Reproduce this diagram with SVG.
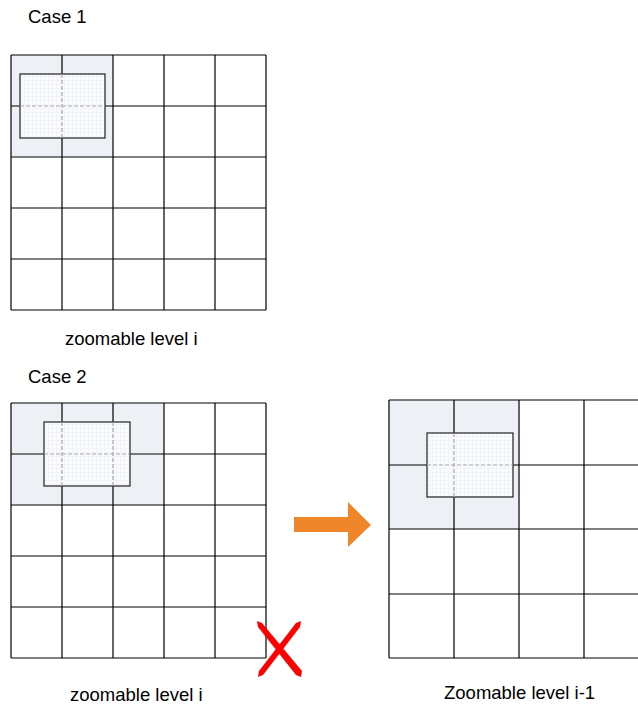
<svg xmlns="http://www.w3.org/2000/svg" width="638" height="704" viewBox="0 0 638 704">
<style>
text{font-family:"Liberation Sans",Arial,sans-serif;fill:#000}
.lbl{font-size:18.5px}
.shade{fill:#edf0f5;stroke:none}
.grid{stroke:#000;stroke-width:1.2;fill:none}
.win{fill:url(#fine);stroke:#222;stroke-width:1.2}
.dash{stroke:#aaa;stroke-width:1.2;stroke-dasharray:4 2;fill:none}
</style>
<defs>
<pattern id="fine" width="4" height="4" patternUnits="userSpaceOnUse">
<rect width="4" height="4" fill="#fafbfd"/>
<path d="M0 0.5H4M0.5 0V4" stroke="#f1f3f8" stroke-width="1"/>
</pattern>
</defs>
<rect width="638" height="704" fill="#fff"/>

<text class="lbl" x="28" y="23">Case 1</text>
<text class="lbl" x="28" y="383">Case 2</text>

<g id="grid1">
<rect class="shade" x="11" y="55" width="102" height="102"/>
<path class="grid" d="M11 55H266M11 106H266M11 157H266M11 208H266M11 259H266M11 310H266M11 55V310M62 55V310M113 55V310M164 55V310M215 55V310M266 55V310"/>
<rect class="win" x="20" y="74" width="85" height="64"/>
<path class="dash" d="M62 74V138M20 106H105"/>
</g>
<text class="lbl" x="65" y="345">zoomable level i</text>

<g id="grid2">
<rect class="shade" x="11" y="403" width="153" height="102"/>
<path class="grid" d="M11 403H266M11 454H266M11 505H266M11 556H266M11 607H266M11 658H266M11 403V658M62 403V658M113 403V658M164 403V658M215 403V658M266 403V658"/>
<rect class="win" x="44" y="422" width="86" height="64"/>
<path class="dash" d="M62 422V486M113 422V486M44 454H130"/>
</g>
<text class="lbl" x="70" y="701">zoomable level i</text>

<g id="grid3">
<rect class="shade" x="389" y="400" width="130" height="129"/>
<path class="grid" d="M389 400H638M389 465H638M389 529H638M389 594H638M389 658H638M389 400V658M454 400V658M519 400V658M584 400V658"/>
<rect class="win" x="427" y="433" width="86" height="64"/>
<path class="dash" d="M454 433V497M427 465H513"/>
</g>
<text class="lbl" x="444" y="699">Zoomable level i-1</text>

<g id="connectors">
<polygon id="arrow" points="294,517 348,517 348,502 371,525 348,547 348,532 294,532" fill="#f0862a"/>
<g id="cross" fill="#f00">
<polygon points="257,621 262,623 302,671 301,677 296,675 258,627"/>
<polygon points="301,621 300,627 263,675 258,677 259,671 296,623"/>
</g>
</g>
</svg>
